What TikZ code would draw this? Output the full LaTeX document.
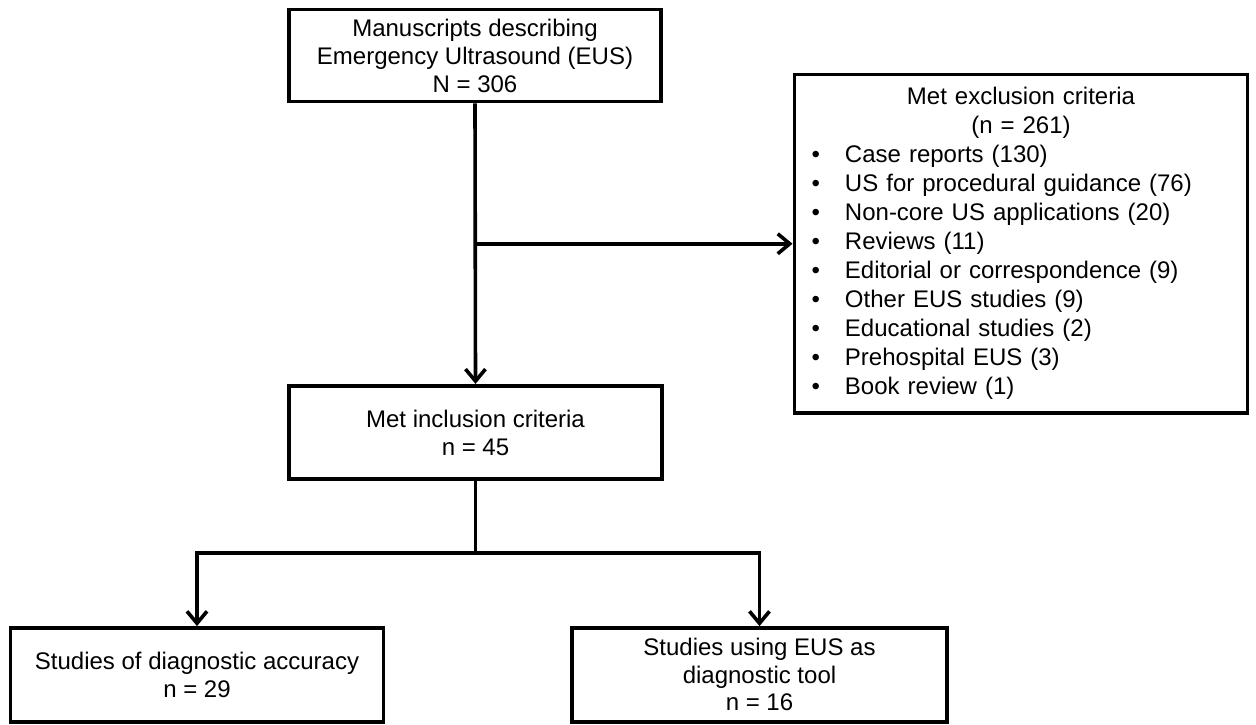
\documentclass[tikz,border=0pt]{standalone}
\usepackage{fontspec}
\setmainfont{Liberation Sans}
\usetikzlibrary{arrows.meta}
\newcommand{\exitem}[1]{\makebox[453pt][l]{\hspace{21.2pt}\makebox[0pt]{\textbullet}\hspace{29.3pt}#1}}
\begin{document}
\begin{tikzpicture}[x=1pt,y=-1pt,
  box/.style={draw=black,line width=3.9pt,inner sep=0pt,align=center,
    font=\fontsize{24}{28}\selectfont},
  conn/.style={line width=3.6pt,draw=black},
  arr/.style={conn,-{Straight Barb[length=12pt,width=20pt]}}]
\useasboundingbox (0,0) rectangle (1256,724);
\node[box,minimum width=372.6pt,minimum height=92pt] (top) at (475,55.5)
  {Manuscripts describing\\Emergency Ultrasound (EUS)\\N = 306};
\node[box,minimum width=453pt,minimum height=338.5pt,text width=453pt,
  font=\fontsize{24}{29}\selectfont] (excl) at (1021,243.75)
  {Met exclusion criteria\\(n = 261)\\
   \exitem{Case reports (130)}\\
   \exitem{US for procedural guidance (76)}\\
   \exitem{Non-core US applications (20)}\\
   \exitem{Reviews (11)}\\
   \exitem{Editorial or correspondence (9)}\\
   \exitem{Other EUS studies (9)}\\
   \exitem{Educational studies (2)}\\
   \exitem{Prehospital EUS (3)}\\
   \exitem{Book review (1)}};
\node[box,minimum width=373.3pt,minimum height=93.5pt] (incl) at (475.5,432.6)
  {Met inclusion criteria\\n = 45};
\node[box,minimum width=373pt,minimum height=93.5pt] (bl) at (197,674.8)
  {Studies of diagnostic accuracy\\n = 29};
\node[box,minimum width=375pt,minimum height=93.5pt,
  font=\fontsize{24}{27.5}\selectfont] (br) at (759.5,674.8)
  {Studies using EUS as\\diagnostic tool\\n = 16};
\coordinate (branch) at (top.south |- excl.west);
\coordinate (split) at (475.5,553);
\draw[arr] (top.south) -- (incl.north);
\draw[arr] (branch) -- (excl.west);
\draw[conn] (incl.south) -- (split);
\draw[arr] (split) -| (bl.north);
\draw[arr] (split) -| (br.north);
\end{tikzpicture}
\end{document}
